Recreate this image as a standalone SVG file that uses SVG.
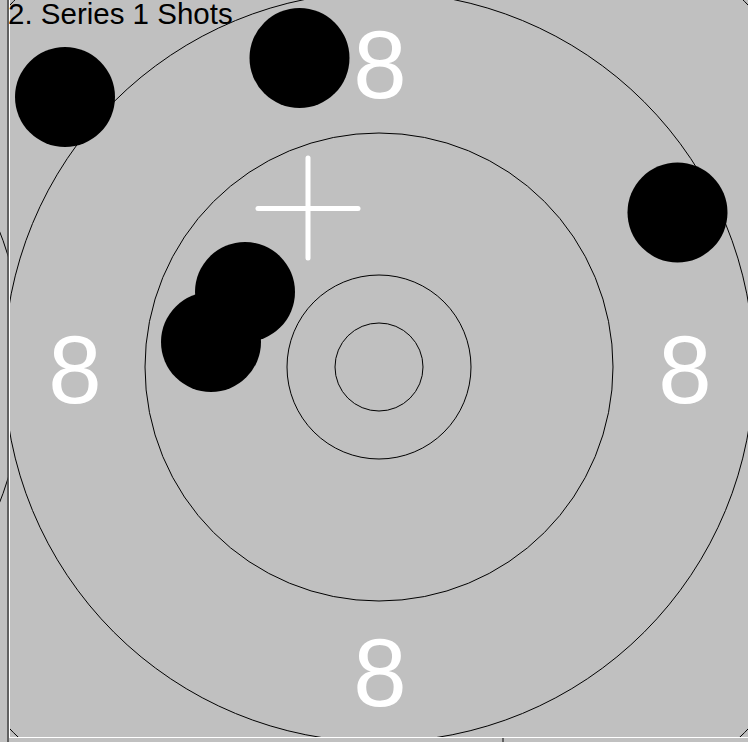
<svg xmlns="http://www.w3.org/2000/svg" width="748" height="742" viewBox="0 0 748 742">
<style>
.ring{fill:none;stroke:#000;stroke-width:1}
.shot{fill:#000}
.num{fill:#fff;font-family:"Liberation Sans",Arial,sans-serif;font-size:96px;text-anchor:middle}
.title{fill:#000;font-family:"Liberation Sans",Arial,sans-serif;font-size:29.5px}
.cross{stroke:#fff;stroke-width:5;stroke-linecap:round}
</style>
<defs>
<clipPath id="leftClip"><rect x="0" y="0" width="7.5" height="742"/></clipPath>
<clipPath id="mainClip"><rect x="10" y="0" width="738" height="737"/></clipPath>
</defs>
<rect x="0" y="0" width="748" height="742" fill="#c0c0c0"/>
<g id="left-panel" clip-path="url(#leftClip)">
<circle class="ring" cx="-350" cy="367" r="375"/>
</g>
<g id="target" clip-path="url(#mainClip)">
<circle class="ring" cx="379" cy="367" r="517"/>
<circle class="ring" cx="379" cy="367" r="375"/>
<circle class="ring" cx="379" cy="367" r="234"/>
<circle class="ring" cx="379" cy="367" r="92"/>
<circle class="ring" cx="379" cy="367" r="44"/>
<text class="num" x="380" y="98">8</text>
<text class="num" x="75" y="403">8</text>
<text class="num" x="685" y="403">8</text>
<text class="num" x="380" y="706">8</text>
<g id="cross">
<line class="cross" x1="308" y1="158" x2="308" y2="258"/>
<line class="cross" x1="258" y1="208.5" x2="358" y2="208.5"/>
</g>
<g id="shots">
<circle class="shot" cx="65" cy="97" r="50"/>
<circle class="shot" cx="299.5" cy="58" r="50"/>
<circle class="shot" cx="677.5" cy="212.5" r="50"/>
<circle class="shot" cx="245" cy="292" r="50"/>
<circle class="shot" cx="211" cy="342" r="50"/>
</g>
</g>
<g id="frame">
<line x1="8" y1="0" x2="8" y2="742" stroke="#000" stroke-width="1"/>
<line x1="9.5" y1="0" x2="9.5" y2="737.5" stroke="#fff" stroke-width="1"/>
<line x1="9" y1="737.5" x2="748" y2="737.5" stroke="#fff" stroke-width="1"/>
<line x1="503" y1="738" x2="503" y2="742" stroke="#000" stroke-width="1"/>
</g>
<text class="title" x="8" y="24">2. Series 1 Shots</text>
</svg>
